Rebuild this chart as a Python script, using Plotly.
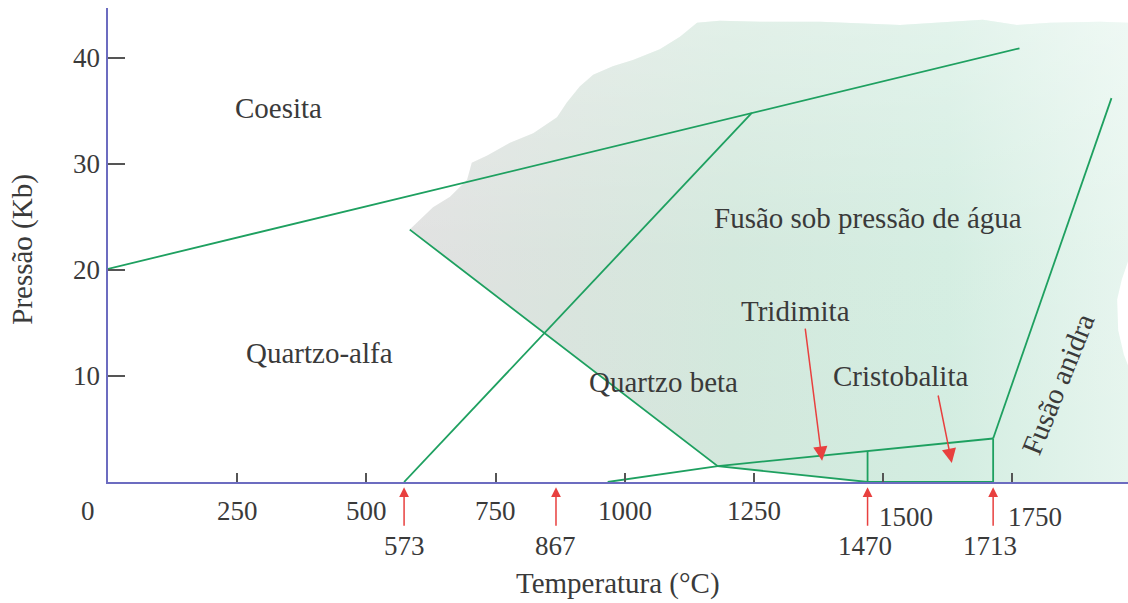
import plotly.graph_objects as go

# --- Phase boundaries of SiO2 (temperature in °C, pressure in Kb) ---
coesite_T = [0, 1764]
coesite_P = [20.1, 40.9]

alpha_beta_T = [573, 1246]
alpha_beta_P = [0, 34.8]

beta_melt_T = [584, 1180, 1470]
beta_melt_P = [23.8, 1.5, 0]

trid_lower_T = [967, 1180]
trid_lower_P = [0, 1.5]

trid_upper_T = [1180, 1713]
trid_upper_P = [1.5, 4.1]

trid_crist_T = [1470, 1470]
trid_crist_P = [0, 2.9]

crist_melt_T = [1713, 1713]
crist_melt_P = [0, 4.1]

base_T = [1470, 1713]
base_P = [0, 0]

anhydrous_T = [1713, 1942]
anhydrous_P = [4.1, 36.2]

# Outline of the water-saturated melting field (shaded)
melt_T = [584, 629, 662, 695, 704, 734, 778, 823, 869, 888, 913, 939, 977, 1016,
          1068, 1107, 1140, 1184, 1262, 1378, 1533, 1630, 1693, 1759, 1823, 1920,
          1974, 1974, 1962, 1953, 1955, 1966, 1974, 1974, 1470, 1180, 584]
melt_P = [23.8, 25.9, 26.9, 28.5, 30.1, 30.8, 32.0, 32.9, 34.4, 35.8, 37.3, 38.4,
          39.2, 39.8, 40.8, 42.0, 43.3, 43.5, 43.4, 43.4, 43.1, 43.4, 43.6, 43.1,
          43.3, 43.4, 43.3, 20.8, 19.1, 17.2, 14.3, 12.0, 11.0, 0, 0, 1.5, 23.8]

# Axis ticks
x_tick_vals = [0, 250, 500, 750, 1000, 1250, 1500, 1750]
x_tick_text = ["0", "250", "500", "750", "1000", "1250", "1500", "1750"]
y_tick_vals = [10, 20, 30, 40]
y_tick_text = ["10", "20", "30", "40"]

# Transition temperatures at 1 atm
transition_T = [573, 867, 1470, 1713]
transition_text = ["573", "867", "1470", "1713"]

# Field names
field_names = ["Coesita", "Quartzo-alfa", "Quartzo beta", "Fusão sob pressão de água",
               "Tridimita", "Cristobalita", "Fusão anidra"]
field_T = [329, 410, 1076, 1471, 1330, 1533, 1839]
field_P = [35.3, 12.2, 9.4, 24.9, 16.1, 10.0, 9.2]

FONT = "Liberation Serif, Times New Roman, serif"
TXT = "#3a3a3a"
GREEN = "#1ea060"
RED = "#e8403f"
AXIS = "#6c6cc0"
FS_NUM = 27
FS_TXT = 29

fig = go.Figure()

# Melting field: grey-to-green horizontal gradient
fig.add_trace(go.Scatter(
    x=melt_T, y=melt_P, mode="lines", fill="toself",
    line=dict(width=0, color="rgba(0,0,0,0)"),
    fillgradient=dict(type="horizontal",
                      colorscale=[[0.0, "#e0e0e0"], [0.2, "#d9e3dd"], [0.45, "#d2e8dc"],
                                  [0.75, "#d3ede1"], [1.0, "#e6f5ee"]]),
    hoverinfo="skip"))

# Soft white veil that lightens the upper part of the field
fig.add_trace(go.Scatter(
    x=melt_T, y=melt_P, mode="lines", fill="toself",
    line=dict(width=0, color="rgba(0,0,0,0)"),
    fillgradient=dict(type="vertical",
                      colorscale=[[0.0, "rgba(255,255,255,0)"],
                                  [0.5, "rgba(255,255,255,0.05)"],
                                  [1.0, "rgba(255,255,255,0.35)"]]),
    hoverinfo="skip"))

for tx, py in [(coesite_T, coesite_P), (alpha_beta_T, alpha_beta_P),
               (beta_melt_T, beta_melt_P), (trid_lower_T, trid_lower_P),
               (trid_upper_T, trid_upper_P), (trid_crist_T, trid_crist_P),
               (crist_melt_T, crist_melt_P), (base_T, base_P),
               (anhydrous_T, anhydrous_P)]:
    fig.add_trace(go.Scatter(x=tx, y=py, mode="lines",
                             line=dict(color=GREEN, width=1.8), hoverinfo="skip"))

annotations = []

# Field labels
for name, t, p in zip(field_names, field_T, field_P):
    annotations.append(dict(
        x=t, y=p, xref="x", yref="y", text=name, showarrow=False,
        textangle=-68 if name == "Fusão anidra" else 0,
        font=dict(family=FONT, size=FS_TXT, color=TXT)))

# Arrows pointing at the Tridimita and Cristobalita fields
annotations.append(dict(x=1382, y=2.0, ax=1349, ay=14.6, xref="x", yref="y",
                        axref="x", ayref="y", text="", showarrow=True, arrowhead=2,
                        arrowsize=1.9, arrowwidth=1.5, arrowcolor=RED))
annotations.append(dict(x=1633, y=1.8, ax=1606, ay=8.3, xref="x", yref="y",
                        axref="x", ayref="y", text="", showarrow=True, arrowhead=2,
                        arrowsize=1.9, arrowwidth=1.5, arrowcolor=RED))

# Transition arrows below the temperature axis
for t, s in zip(transition_T, transition_text):
    annotations.append(dict(x=t, y=-0.011, xref="x", yref="paper",
                            ax=0, ay=40, text="", showarrow=True,
                            arrowhead=2, arrowsize=1.3, arrowwidth=1.5,
                            arrowcolor=RED))
    annotations.append(dict(x=t, y=0, xref="x", yref="paper", text=s,
                            showarrow=False, yanchor="middle", yshift=-64,
                            xshift=-3 if t > 1000 else 0,
                            font=dict(family=FONT, size=FS_NUM, color=TXT)))

# Temperature tick labels
for v, s in zip(x_tick_vals, x_tick_text):
    if v == 0:
        xa, xs, ys = "center", -20, -29
    elif v >= 1500:
        xa, xs, ys = "left", -6, -35
    else:
        xa, xs, ys = "center", 0, -29
    annotations.append(dict(x=v, y=0, xref="x", yref="paper", text=s,
                            showarrow=False, xanchor=xa, yanchor="middle",
                            xshift=xs, yshift=ys,
                            font=dict(family=FONT, size=FS_NUM, color=TXT)))

# Pressure tick labels
for v, s in zip(y_tick_vals, y_tick_text):
    annotations.append(dict(x=0, y=v, xref="paper", yref="y", text=s,
                            showarrow=False, xanchor="right", yanchor="middle",
                            xshift=-6,
                            font=dict(family=FONT, size=FS_NUM, color=TXT)))

# Axis titles
annotations.append(dict(x=0.5, y=0, xref="paper", yref="paper",
                        text="Temperatura (°C)", showarrow=False,
                        yanchor="middle", yshift=-101,
                        font=dict(family=FONT, size=FS_TXT, color=TXT)))
annotations.append(dict(x=0, y=0.49, xref="paper", yref="paper",
                        text="Pressão (Kb)", showarrow=False, textangle=-90,
                        xanchor="center", yanchor="middle", xshift=-85,
                        font=dict(family=FONT, size=FS_TXT, color=TXT)))

fig.update_layout(
    width=1128, height=603,
    margin=dict(l=108, r=0, t=8, b=121),
    paper_bgcolor="white", plot_bgcolor="white",
    showlegend=False,
    annotations=annotations,
    xaxis=dict(range=[0, 1974], showgrid=False, zeroline=False,
               showline=True, linecolor=AXIS, linewidth=2,
               ticks="inside", tickvals=x_tick_vals[1:], ticklen=9,
               tickwidth=2, tickcolor="#555555", showticklabels=False),
    yaxis=dict(range=[0, 44.7], showgrid=False, zeroline=False,
               showline=True, linecolor=AXIS, linewidth=2,
               ticks="inside", tickvals=y_tick_vals, ticklen=17,
               tickwidth=2, tickcolor="#555555", showticklabels=False),
)

fig.write_html("out.html")
